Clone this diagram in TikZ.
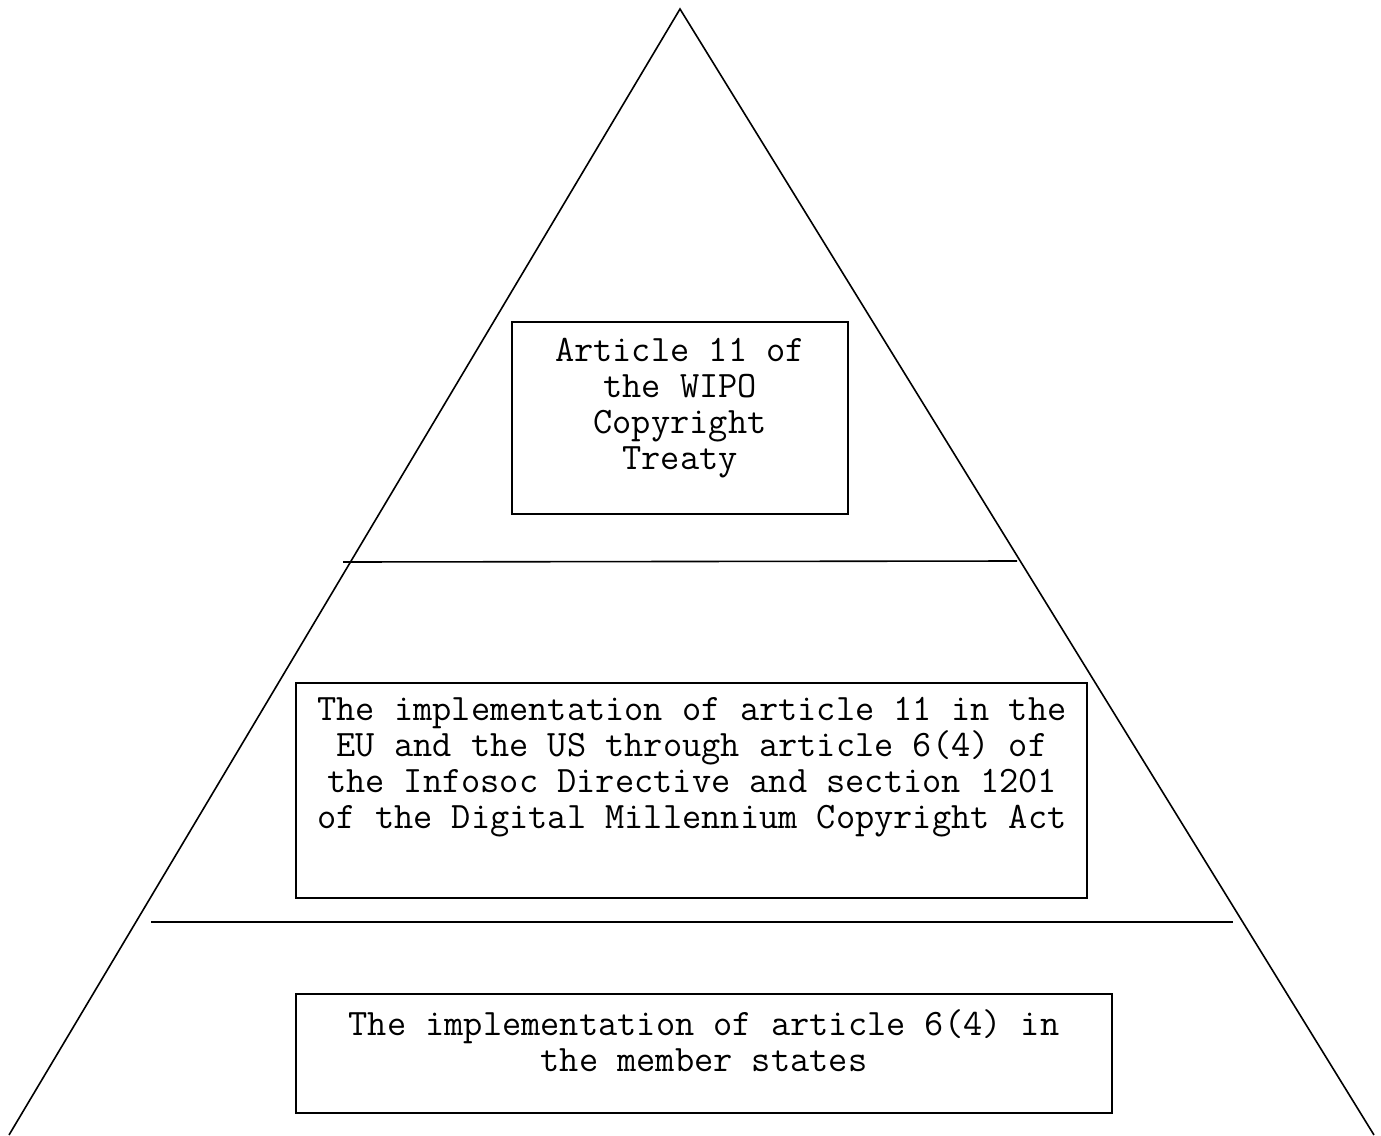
\documentclass[tikz,border=0pt]{standalone}
\usepackage{fontspec}
\begin{document}
\begin{tikzpicture}[x=1pt,y=-1pt,
  ln/.style={line width=1.6pt},
  boxshape/.style={draw,line width=1.6pt},
  txt/.style={font=\fontsize{37.3}{36}\selectfont\ttfamily,align=center,inner sep=0pt,anchor=north}]
\useasboundingbox (0,0) rectangle (1381,1135);
\coordinate (apex) at (680,9);
\coordinate (bl) at (9,1135);
\coordinate (br) at (1374,1135);
\draw[ln] (bl) -- (apex) -- (br);
\coordinate (l1a) at (343,562);
\coordinate (l1b) at (1017,561);
\coordinate (l2a) at (151,922);
\coordinate (l2b) at (1233,922);
\draw[ln] (l1a) -- (l1b);
\draw[ln] (l2a) -- (l2b);
\draw[boxshape] (512,322) rectangle (848,514);
\draw[boxshape] (296,683) rectangle (1087,898);
\draw[boxshape] (296,994) rectangle (1112,1113);
\node[txt] (t1) at (680,338) {Article 11 of\\the WIPO\\Copyright\\Treaty};
\node[txt] (t2) at (692,697) {The implementation of article 11 in the\\EU and the US through article 6(4) of\\the Infosoc Directive and section 1201\\of the Digital Millennium Copyright Act};
\node[txt] (t3) at (704,1009) {The implementation of article 6(4) in\\the member states};
\end{tikzpicture}
\end{document}
